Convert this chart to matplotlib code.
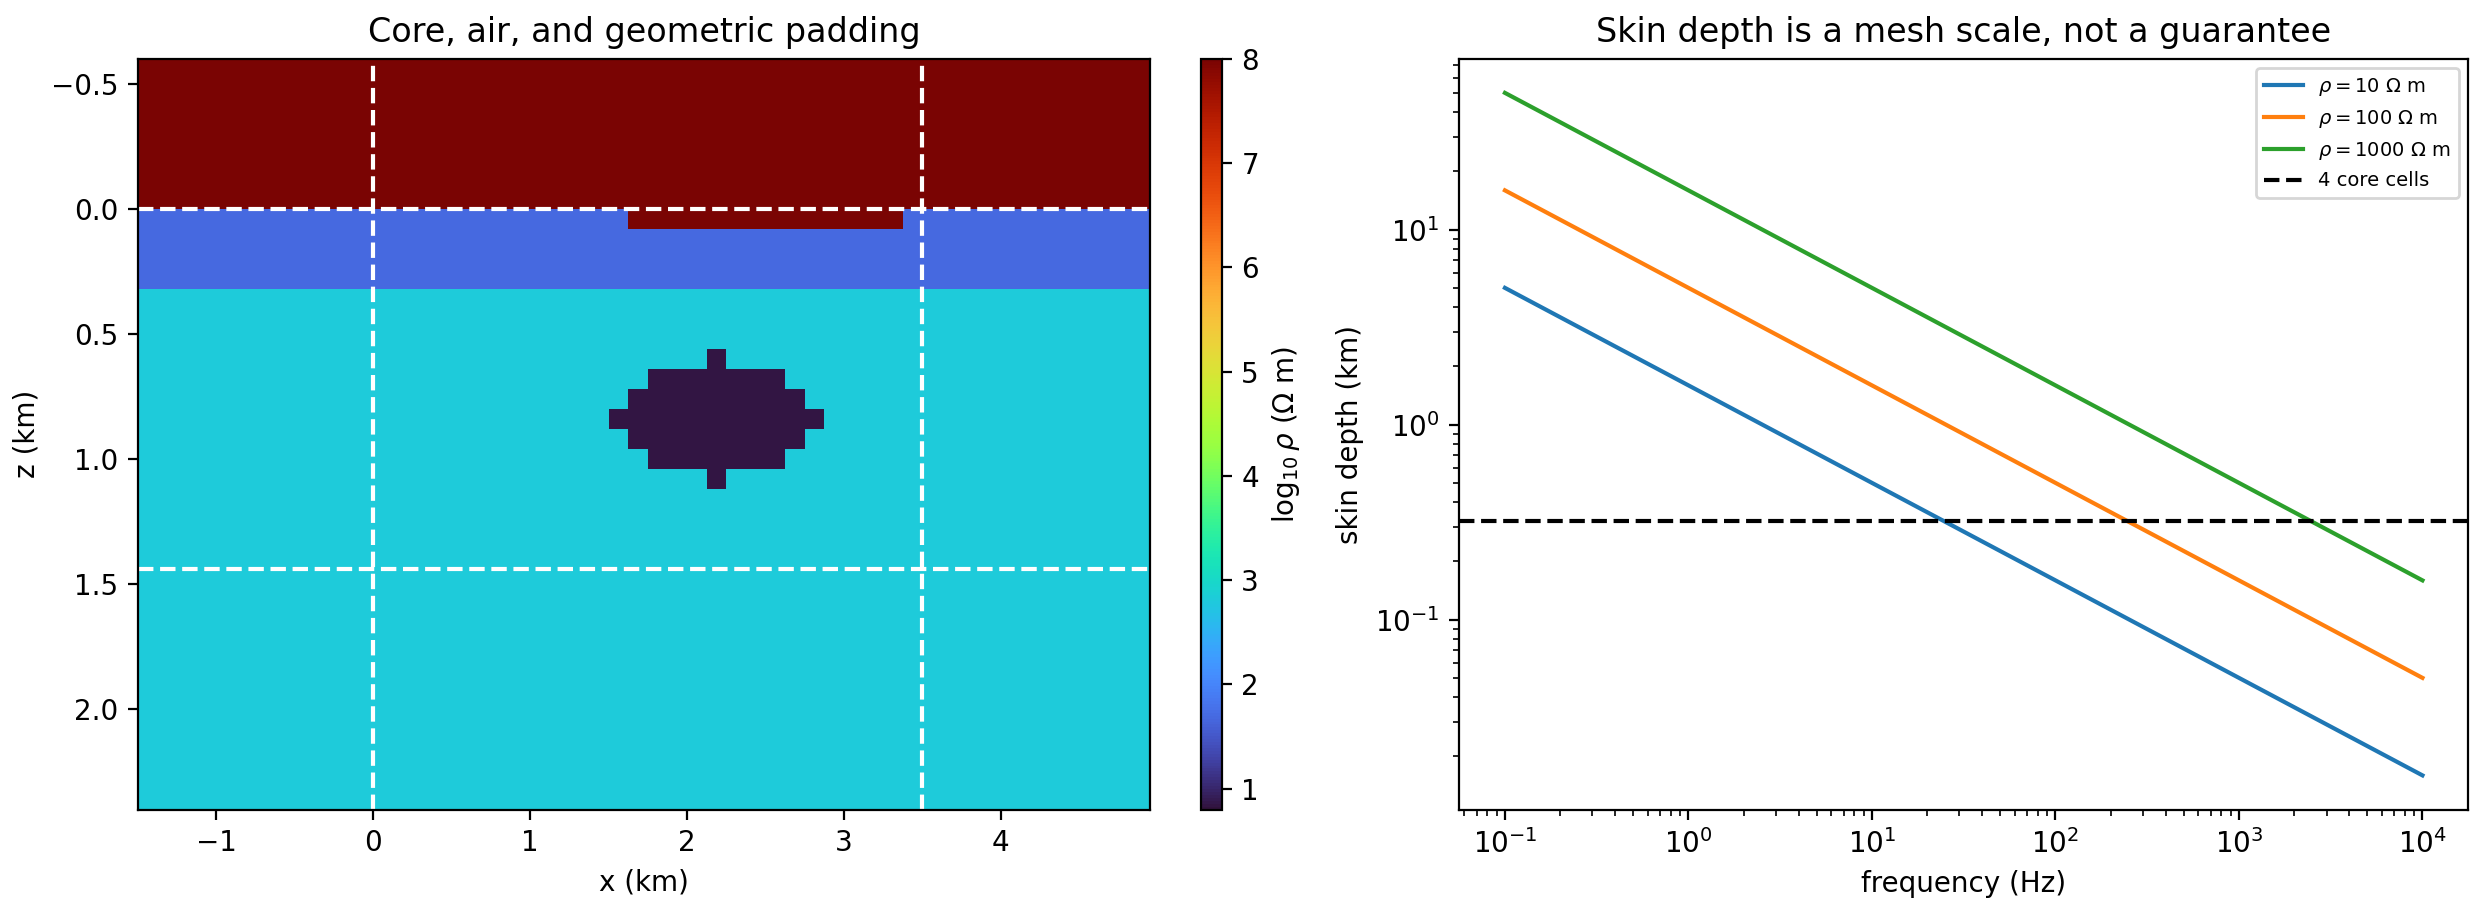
import numpy as np
import matplotlib
matplotlib.use("Agg")
import matplotlib.pyplot as plt

# --- data ---
dx, dz = 0.125, 0.08
x_edges = np.arange(-1.5, 5.0 + 1e-9, dx)
z_edges = np.arange(-0.64, 2.4 + 1e-9, dz)
log_air, log_layer, log_half, log_blob, log_surface = 8.0, 1.7, 2.8, 0.85, 8.0
color_min = 0.8
layer_bottom = 0.32
surface_x = (1.625, 3.375); surface_z = (0.0, 0.08)
blob_rows = {7: (17, 17), 8: (14, 20), 9: (13, 21), 10: (12, 22), 11: (13, 21), 12: (14, 20), 13: (17, 17)}
core_x = (0.0, 3.5); core_z = (0.0, 1.44)
freqs = np.logspace(-1, 4, 200)
rhos = [10, 100, 1000]
core_cell = 0.08

xc = 0.5 * (x_edges[:-1] + x_edges[1:])
zc = 0.5 * (z_edges[:-1] + z_edges[1:])
X, Z = np.meshgrid(xc, zc)
M = np.full(X.shape, log_half)
M[Z < layer_bottom] = log_layer
M[Z < 0] = log_air
M[(X > surface_x[0]) & (X < surface_x[1]) & (Z > surface_z[0]) & (Z < surface_z[1])] = log_surface
ix0 = np.searchsorted(x_edges, 0.0 - 1e-9)
iz0 = np.searchsorted(z_edges, 0.0 - 1e-9)
for iz, (a, b) in blob_rows.items():
    M[iz0 + iz, ix0 + a: ix0 + b + 1] = log_blob

fig = plt.figure(figsize=(12.46, 4.575), dpi=200)
ax1 = fig.add_axes([0.0554, 0.1153, 0.406, 0.8205])
cax = fig.add_axes([0.482, 0.1153, 0.0083, 0.8205])
ax2 = fig.add_axes([0.5855, 0.1153, 0.405, 0.8205])

pc = ax1.pcolormesh(x_edges, z_edges, M, cmap="turbo", vmin=color_min, vmax=8)
ax1.set_xlim(-1.5, 4.95)
ax1.set_ylim(2.4, -0.6)
for xv in core_x:
    ax1.axvline(xv, color="white", ls="--", lw=1.5)
for zv in core_z:
    ax1.axhline(zv, color="white", ls="--", lw=1.5)
ax1.set_xlabel("x (km)")
ax1.set_ylabel("z (km)")
ax1.set_title("Core, air, and geometric padding")
cb = fig.colorbar(pc, cax=cax)
cb.set_label(r"$\log_{10}\rho$ ($\Omega$ m)")

for rho in rhos:
    ax2.loglog(freqs, 0.503 * np.sqrt(rho / freqs), label=rf"$\rho = {rho}\ \Omega$ m")
ax2.axhline(4 * core_cell, color="black", ls="--", lw=1.5, label="4 core cells")
ax2.set_xlabel("frequency (Hz)")
ax2.set_ylabel("skin depth (km)")
ax2.set_title("Skin depth is a mesh scale, not a guarantee")
ax2.legend(fontsize=7, loc="upper right")

fig.savefig("out.png", dpi=200)
